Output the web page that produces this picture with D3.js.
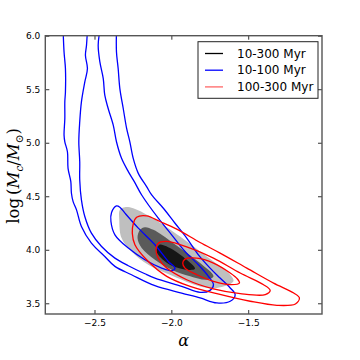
<!DOCTYPE html>
<html><head><meta charset="utf-8">
<script src="https://cdn.jsdelivr.net/npm/d3@7"></script>
<style>body{margin:0;background:#fff}svg{display:block}</style>
</head><body>
<script>
// ---- data (alpha, log Mc) ----
const xTicks = [-2.5, -2.0, -1.5];
const yTicks = [3.5, 4.0, 4.5, 5.0, 5.5, 6.0];
const seriesNames = ["10-300 Myr", "10-100 Myr", "100-300 Myr"];

// 10-300 Myr filled levels (outer -> inner)
const all_outer = [[-2.335,4.373],[-2.339,4.280],[-2.324,4.109],[-2.259,3.984],[-2.150,3.860],[-1.987,3.752],[-1.813,3.658],[-1.704,3.643],[-1.596,3.705],[-1.617,3.767],[-1.770,3.938],[-1.943,4.124],[-2.139,4.311],[-2.248,4.388],[-2.302,4.398]];
const all_mid = [[-2.204,4.186],[-2.220,4.109],[-2.193,4.016],[-2.107,3.907],[-1.998,3.814],[-1.878,3.752],[-1.770,3.720],[-1.726,3.752],[-1.813,3.876],[-1.987,4.062],[-2.117,4.186],[-2.172,4.211]];
const all_inner = [[-2.078,4.047],[-2.096,3.984],[-2.020,3.870],[-1.900,3.814],[-1.846,3.823],[-1.922,3.932],[-2.009,4.016],[-2.052,4.043]];

// 10-100 Myr contours
const young_outer = [[-2.704,6.05],[-2.698,5.848],[-2.689,5.693],[-2.689,5.475],[-2.693,5.382],[-2.693,5.227],[-2.698,5.071],[-2.693,5.009],[-2.676,4.916],[-2.672,4.761],[-2.654,4.637],[-2.650,4.528],[-2.639,4.450],[-2.617,4.373],[-2.585,4.217],[-2.520,4.062],[-2.433,3.938],[-2.367,3.845],[-2.259,3.767],[-2.107,3.665],[-1.933,3.596],[-1.813,3.550],[-1.704,3.503],[-1.617,3.519],[-1.585,3.581],[-1.617,3.643],[-1.683,3.736],[-1.748,3.829],[-1.824,3.953],[-1.900,4.109],[-1.976,4.248],[-2.052,4.388],[-2.128,4.512],[-2.161,4.590],[-2.215,4.714],[-2.248,4.854],[-2.270,5.009],[-2.291,5.134],[-2.313,5.320],[-2.335,5.506],[-2.346,5.693],[-2.357,5.848],[-2.357,6.05]];
const young_mid = [[-2.465,6.05],[-2.476,5.910],[-2.465,5.755],[-2.443,5.599],[-2.433,5.444],[-2.411,5.320],[-2.378,5.165],[-2.357,5.009],[-2.324,4.854],[-2.280,4.730],[-2.241,4.637],[-2.193,4.512],[-2.085,4.295],[-1.998,4.140],[-1.911,3.984],[-1.824,3.860],[-1.759,3.752],[-1.726,3.674],[-1.748,3.621],[-1.813,3.602],[-1.933,3.658],[-2.107,3.736],[-2.172,3.776],[-2.280,3.851],[-2.367,3.922],[-2.454,4.031],[-2.520,4.155],[-2.563,4.311],[-2.585,4.466],[-2.596,4.652],[-2.596,4.823],[-2.602,5.009],[-2.596,5.196],[-2.585,5.382],[-2.563,5.568],[-2.546,5.693],[-2.559,5.817],[-2.552,5.910],[-2.546,6.05]];
const young_inner = [[-2.357,4.410],[-2.389,4.348],[-2.393,4.264],[-2.367,4.140],[-2.280,4.016],[-2.172,3.907],[-2.063,3.829],[-1.998,3.804],[-1.976,3.829],[-2.020,3.891],[-2.107,4.047],[-2.215,4.202],[-2.302,4.342],[-2.335,4.398]];

// 100-300 Myr contours
const old_outer = [[-2.226,4.304],[-2.161,4.317],[-2.074,4.264],[-1.965,4.193],[-1.813,4.068],[-1.683,3.969],[-1.509,3.829],[-1.335,3.689],[-1.204,3.596],[-1.167,3.550],[-1.193,3.494],[-1.313,3.481],[-1.487,3.519],[-1.704,3.590],[-1.878,3.658],[-2.030,3.752],[-2.161,3.907],[-2.237,4.047],[-2.254,4.155],[-2.248,4.242]];
const old_mid = [[-2.085,4.062],[-2.030,4.078],[-1.878,4.016],[-1.726,3.922],[-1.552,3.783],[-1.400,3.674],[-1.357,3.621],[-1.389,3.581],[-1.552,3.590],[-1.726,3.634],[-1.900,3.720],[-2.030,3.829],[-2.085,3.922],[-2.100,4.000]];
const old_inner = [[-1.911,3.913],[-1.835,3.922],[-1.726,3.876],[-1.617,3.783],[-1.570,3.727],[-1.557,3.689],[-1.607,3.674],[-1.726,3.705],[-1.835,3.767],[-1.911,3.829],[-1.926,3.876]];

// ---- chart ----
const W = 360, H = 360;
const L = 45.3, R = 322, T = 35.7, B = 314;
const x = d3.scaleLinear().domain([-2.82, -1.02]).range([L, R]);
const y = d3.scaleLinear().domain([3.4, 6.0]).range([B, T]);

const svg = d3.select("body").append("svg").attr("width", W).attr("height", H);
svg.append("defs").append("clipPath").attr("id","clip")
  .append("rect").attr("x",L).attr("y",T).attr("width",R-L).attr("height",B-T);

const g = svg.append("g").attr("clip-path","url(#clip)");
const closed = d3.line().x(d=>x(d[0])).y(d=>y(d[1])).curve(d3.curveCatmullRomClosed.alpha(0.5));
const open = d3.line().x(d=>x(d[0])).y(d=>y(d[1])).curve(d3.curveCatmullRom.alpha(0.5));

[[all_outer,"#bfbfbf"],[all_mid,"#5a5a5a"],[all_inner,"#161616"]].forEach(([d,c])=>{
  g.append("path").attr("d",closed(d)).attr("fill",c).attr("stroke","none");
});
[young_outer, young_mid].forEach(d=>{
  g.append("path").attr("d",open(d)).attr("fill","none").attr("stroke","#0000ff").attr("stroke-width",1.3);
});
g.append("path").attr("d",closed(young_inner)).attr("fill","none").attr("stroke","#0000ff").attr("stroke-width",1.3);
[old_outer, old_mid, old_inner].forEach(d=>{
  g.append("path").attr("d",closed(d)).attr("fill","none").attr("stroke","#ff0000").attr("stroke-width",1.3);
});

// axes
const fontTick = "DejaVu Sans, sans-serif";
const fmt = d3.format(".1f");
const xAx = svg.append("g").attr("transform",`translate(0,${B})`)
  .call(d3.axisBottom(x).tickValues(xTicks).tickFormat(fmt).tickSizeInner(-4).tickSizeOuter(0).tickPadding(6));
const xAxTop = svg.append("g").attr("transform",`translate(0,${T})`)
  .call(d3.axisTop(x).tickValues(xTicks).tickFormat("").tickSizeInner(-4).tickSizeOuter(0));
const yAx = svg.append("g").attr("transform",`translate(${L},0)`)
  .call(d3.axisLeft(y).tickValues(yTicks).tickFormat(fmt).tickSizeInner(-4).tickSizeOuter(0).tickPadding(5));
const yAxR = svg.append("g").attr("transform",`translate(${R},0)`)
  .call(d3.axisRight(y).tickValues(yTicks).tickFormat("").tickSizeInner(-4).tickSizeOuter(0));
[xAx,xAxTop,yAx,yAxR].forEach(a=>{
  a.select(".domain").remove();
  a.selectAll("line").attr("stroke","#333").attr("stroke-width",1);
  a.selectAll("text").attr("font-family",fontTick).attr("font-size",9).attr("fill","#000");
});
svg.append("rect").attr("x",L).attr("y",T).attr("width",R-L).attr("height",B-T)
  .attr("fill","none").attr("stroke","#555").attr("stroke-width",1.4);

// axis labels
svg.append("text").attr("x",(L+R)/2).attr("y",346).attr("text-anchor","middle")
  .attr("font-family","DejaVu Serif, serif").attr("font-style","italic").attr("font-size",16).text("α");
const yl = svg.append("text").attr("transform",`translate(19,${(T+B)/2 + 1}) rotate(-90)`)
  .attr("text-anchor","middle").attr("font-family","DejaVu Serif, serif").attr("font-size",16.5);
yl.append("tspan").text("log");
yl.append("tspan").attr("dx",3).text("(");
yl.append("tspan").attr("font-style","italic").text("M");
yl.append("tspan").attr("font-size",10.5).attr("dy",3.5).attr("font-style","italic").text("c");
yl.append("tspan").attr("dy",-3.5).text("/");
yl.append("tspan").attr("font-style","italic").text("M");
yl.append("tspan").attr("font-size",10.5).attr("dy",3.5).text("⊙");
yl.append("tspan").attr("dy",-3.5).text(")");

// legend
const lg = svg.append("g");
lg.append("rect").attr("x",198).attr("y",41.7).attr("width",120).attr("height",56.6)
  .attr("fill","#fff").attr("stroke","#222").attr("stroke-width",1);
const lc = [["#000",1],["#0000ff",1],["#ff0000",0.6]];
seriesNames.forEach((n,i)=>{
  const yy = 53.5 + i*16.7;
  lg.append("line").attr("x1",205).attr("x2",223).attr("y1",yy).attr("y2",yy)
    .attr("stroke",lc[i][0]).attr("stroke-opacity",lc[i][1]).attr("stroke-width",1.3);
  lg.append("text").attr("x",237).attr("y",yy+4.2).attr("font-family",fontTick).attr("font-size",12).text(n);
});
</script>
</body></html>
